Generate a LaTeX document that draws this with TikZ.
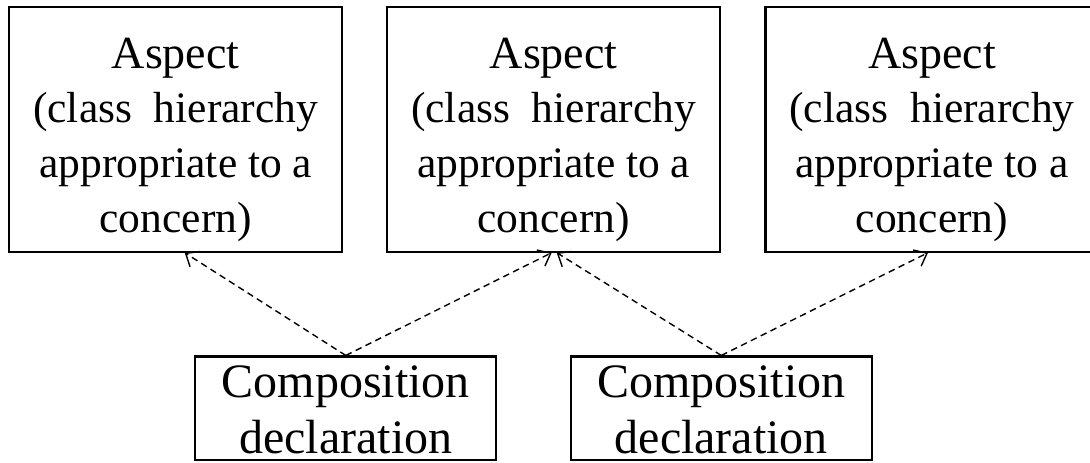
\documentclass[tikz,border=0pt]{standalone}
\usepackage{fontspec}
\setmainfont{Liberation Serif}
\usetikzlibrary{arrows.meta}

\tikzset{
  aspectbox/.style={draw, line width=2.2pt, minimum width=333pt, minimum height=245pt, inner sep=0pt},
  compbox/.style={draw, line width=2.2pt, minimum width=301pt, minimum height=103.5pt, inner sep=0pt},
  aspecttext/.style={text width=330pt, align=flush center, inner sep=0pt, anchor=base,
    font=\fontsize{46}{54.7}\selectfont},
  comptext/.style={text width=300pt, align=flush center, inner sep=0pt, anchor=base,
    font=\fontsize{48}{56}\selectfont},
  uses/.style={dashed, dash pattern=on 6.5pt off 4.5pt, line width=1.4pt,
    -{Straight Barb[length=11pt,width=18pt]}},
}
\newcommand{\aspectbody}{\fontsize{43.5}{54.7}\selectfont}

\begin{document}
\begin{tikzpicture}[x=1pt,y=-1pt]
  \useasboundingbox (0,0) rectangle (1090,463);

  % aspects: one class hierarchy per concern
  \node[aspectbox] (a1) at (175.7,129.1) {};
  \node[aspectbox] (a2) at (553.7,129.1) {};
  \node[aspectbox] (a3) at (932.0,129.1) {};
  \foreach \n/\x in {a1/175.7, a2/553.7, a3/932.0}
    \node[aspecttext] (\n t) at (\x,68)
      {Aspect\\{\aspectbody(class~~hierarchy\\appropriate to a\\concern)}};

  % composition declarations
  \node[compbox] (ca) at (345.8,408.3) {};
  \node[compbox] (cb) at (721.3,408.3) {};
  \foreach \n/\x in {ca/345.8, cb/721.3}
    \node[comptext] (\n t) at (\x,397) {Composition\\declaration};

  % each declaration refers to the aspects it composes
  \draw[uses] (ca.north) -- ([xshift=9pt]a1.south);
  \draw[uses] (ca.north) -- ([xshift=-2pt]a2.south);
  \draw[uses] (cb.north) -- ([xshift=3pt]a2.south);
  \draw[uses] (cb.north) -- ([xshift=-4pt]a3.south);
\end{tikzpicture}
\end{document}
